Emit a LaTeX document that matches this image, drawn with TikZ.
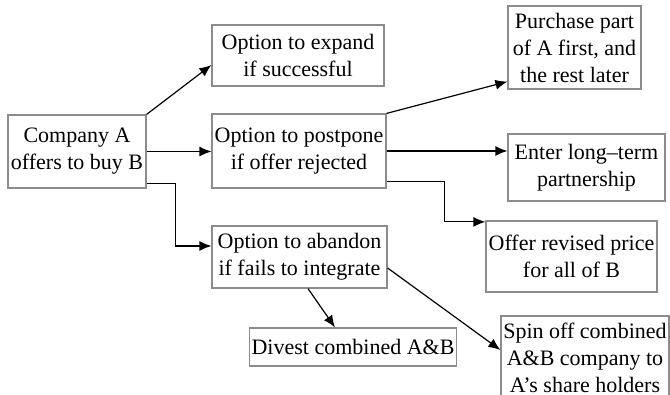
\documentclass[tikz,border=0pt]{standalone}
\usepackage{fontspec}
\setmainfont{Liberation Serif}
\usetikzlibrary{arrows.meta,calc,positioning}

\begin{document}
\begin{tikzpicture}[x=0.5pt, y=-0.5pt, >={Latex[length=6pt,width=5pt]},
		box/.style={draw=black!45, line width=0.6pt, align=center, inner sep=1pt, font=\fontsize{11}{13.5}\selectfont},
		link/.style={->, line width=0.6pt}]
			\useasboundingbox (0,0) rectangle (670,395);
			\node[box, minimum width=69pt, minimum height=36.5pt] (comp) at (77,151.5) {Company A\\offers to buy B};
			\node[box, minimum width=86pt, minimum height=30.5pt] (expand) at (298,55.5) {Option to expand\\if successful};
			\node[box, minimum width=87pt, minimum height=37pt] (postpone) at (299,151) {Option to postpone\\if offer rejected};
			\node[box, minimum width=87.5pt, minimum height=31pt] (abandon) at (299.5,257) {Option to abandon\\if fails to integrate};
			\node[box, minimum width=66.5pt, minimum height=41.5pt] (purchase) at (574.5,47.5) {Purchase part\\of A first, and\\the rest later};
			\node[box, minimum width=78.5pt, minimum height=33.5pt] (enter) at (586.5,167.5) {Enter long–term\\partnership};
			\node[box, minimum width=85.5pt, minimum height=35.5pt] (offer) at (571.5,256.5) {Offer revised price\\for all of B};
			\node[box, minimum width=101pt, minimum height=19pt] (divest) at (353,347) {Divest combined A\&B};
			\node[box, minimum width=84pt, minimum height=42pt] (spin) at (585,358) {Spin off combined\\A\&B company to\\A’s share holders};
			\draw[link] (comp.north east) to ($(expand.west)+(0,9.5)$);
			\draw[link] (comp.east) to (comp.east -| postpone.west);
			\draw[link] ($(comp.south east)+(0,-5)$) -- ++(29,0) |- ($(abandon.west)+(0,-11)$);
			\draw[link] (postpone.north east) to ($(purchase.south west)+(0,-8)$);
			\draw[link] (postpone.east) to (postpone.east -| enter.west);
			\draw[link] ($(postpone.south east)+(0,-7)$) -- ++(58,0) |- ($(offer.north west)+(0,1.5)$);
			\draw[link] ($(abandon.south)+(8.5,0)$) to ($(divest.north)+(-18,0)$);
			\draw[link] ($(abandon.east)+(0,11)$) to ($(spin.west)+(0,-8)$);
		\end{tikzpicture}
\end{document}
